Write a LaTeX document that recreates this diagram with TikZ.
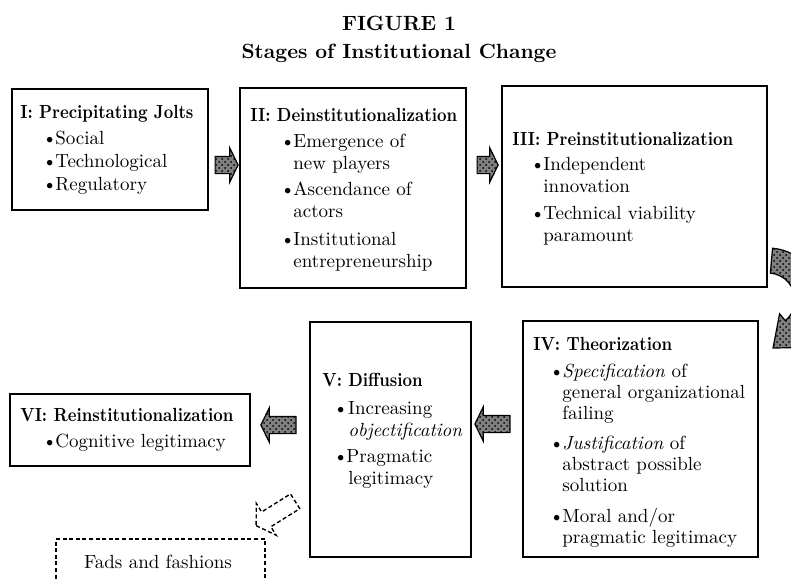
\documentclass[tikz,border=0pt]{standalone}
\usepackage{fontspec}
\usepackage{graphicx}
\usetikzlibrary{shapes.arrows, patterns, calc, fit}

% bullet line and continuation line, indented by #1
\newcommand{\bl}[1]{\hspace*{#1}\makebox[6.5pt][l]{\textbullet}}
\newcommand{\cl}[1]{\hspace*{\dimexpr#1+6.5pt\relax}}
% narrow bold heading
\newcommand{\hd}[1]{\scalebox{0.87}[1]{\bfseries #1}}

\begin{document}
\begin{tikzpicture}[x=0.5pt, y=-0.5pt,
  stage/.style={draw, line width=0.8pt, inner sep=0pt},
  txt/.style={anchor=north west, inner sep=0pt, align=left,
    font=\fontsize{9.5}{11}\selectfont},
  arrowbody/.style={single arrow, draw, inner xsep=0pt, inner ysep=4pt,
    single arrow head extend=4.25pt, single arrow tip angle=128},
  jolt/.style={arrowbody, line width=0.6pt, preaction={fill=black!50},
    pattern=crosshatch dots},
  dashline/.style={draw, line width=0.7pt, dash pattern=on 2pt off 1.3pt},
]

% Page
\clip (0,0) rectangle (791,579);

% Title
\node[font=\fontsize{10.3}{14}\selectfont\bfseries, align=center] (title)
  at (399,39) {FIGURE 1\\Stages of Institutional Change};

% Stage boxes
\node[stage, fit={(12,89) (208,210)}] (jolts) {};
\node[stage, fit={(240,88) (466,288)}] (deinst) {};
\node[stage, fit={(502,86) (767,287)}] (preinst) {};
\node[stage, fit={(523,321) (758,557)}] (theory) {};
\node[stage, fit={(310,322) (471,557)}] (diffusion) {};
\node[stage, fit={(10,394) (250,466)}] (reinst) {};
\node[dashline, inner sep=0pt, fit={(56,539) (265,620)}] (fads) {};

% Box text
\node[txt] (joltstxt) at (20,105) {\hd{I: Precipitating Jolts}\\[2pt]
  \bl{11pt}Social\\[0.5pt] \bl{11pt}Technological\\[0.5pt] \bl{11pt}Regulatory};
\node[txt] (deinsttxt) at (250,108) {\hd{II: Deinstitutionalization}\\[2pt]
  \bl{15pt}Emergence of\\ \cl{15pt}new players\\[2pt]
  \bl{15pt}Ascendance of\\ \cl{15pt}actors\\[3pt]
  \bl{15pt}Institutional\\ \cl{15pt}entrepreneurship};
\node[txt] (preinsttxt) at (512,132) {\hd{III: Preinstitutionalization}\\[1.5pt]
  \bl{9pt}Independent\\ \cl{9pt}innovation\\[2.5pt]
  \bl{9pt}Technical viability\\ \cl{9pt}paramount};
\node[txt, font=\fontsize{9.5}{10.5}\selectfont] (theorytxt) at (533,337)
  {\hd{IV: Theorization}\\[3pt]
  \bl{8pt}\textit{Specification} of\\ \cl{8pt}general organizational\\
  \cl{8pt}failing\\[4.5pt]
  \bl{8pt}\textit{Justification} of\\ \cl{8pt}abstract possible\\
  \cl{8pt}solution\\[5pt]
  \bl{8pt}Moral and/or\\ \cl{8pt}pragmatic legitimacy};
\node[txt] (diffusiontxt) at (322,373) {\hd{V: Diffusion}\\[3pt]
  \hspace*{5.5pt}\textbullet Increasing\\ \hspace*{13pt}\textit{objectification}\\[2pt]
  \bl{5.5pt}Pragmatic\\ \hspace*{13pt}legitimacy};
\node[txt] (reinsttxt) at (20,408) {\hd{VI: Reinstitutionalization}\\[2pt]
  \bl{11pt}Cognitive legitimacy};
\node[font=\fontsize{9.5}{11}\selectfont] (fadstxt) at (158,562) {Fads and fashions};

% Arrows between stages
\node[jolt, minimum height=11.5pt] (a12) at (224.5,165) {};
\node[jolt, minimum height=10.5pt] (a23) at (485.5,165) {};
\node[jolt, minimum height=17.5pt, rotate=180] (a45) at (494.5,424) {};
\node[jolt, minimum height=17.5pt, rotate=180] (a56) at (280.5,425) {};
\node[arrowbody, dashline, minimum height=23pt, single arrow head extend=5pt,
  single arrow tip angle=115, rotate=212] (a6f) at (278,512) {};

% Bent arrow from III round to IV
\coordinate (bend) at (768,300);
\draw[line width=0.6pt, preaction={fill=black!50}, pattern=crosshatch dots]
  ($(bend)+(-85:52)$) arc[start angle=-85, end angle=50, radius=52]
  -- ($(bend)+(50:62)$) -- ($(bend)+(50:40)+(140:27)$) -- ($(bend)+(50:18)$)
  -- ($(bend)+(50:27)$) arc[start angle=50, end angle=-85, radius=27] -- cycle;
\end{tikzpicture}
\end{document}
